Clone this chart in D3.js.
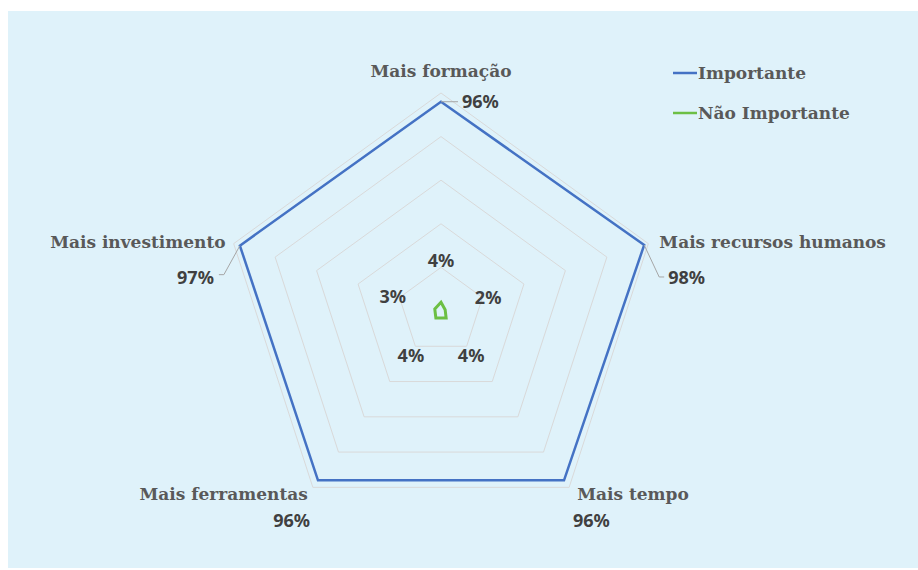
<!DOCTYPE html>
<html>
<head>
<meta charset="utf-8">
<script src="https://cdn.jsdelivr.net/npm/d3@7"></script>
<style>
  body { margin: 0; background: #fff; }
  .cat { font-family: "DejaVu Serif", serif; font-weight: bold; font-size: 17px; fill: #595959; }
  .val { font-family: "Noto Sans", sans-serif; font-weight: bold; font-size: 18px; fill: #404040; }
  .leg { font-family: "DejaVu Serif", serif; font-weight: bold; font-size: 17px; fill: #595959; }
</style>
</head>
<body>
<svg width="918" height="570"></svg>
<script>
// data
var categories = ['Mais formação', 'Mais recursos humanos', 'Mais tempo', 'Mais ferramentas', 'Mais investimento'];
var importante = [96, 98, 96, 96, 97];
var naoImportante = [4, 2, 4, 4, 3];
var gridLevels = [20, 40, 60, 80, 100];
var seriesNames = ['Importante', 'Não Importante'];
var seriesColors = ['#4472c4', '#6cbf44'];

// layout
var width = 918, height = 570;
var cx = 441, cy = 311;
var r = d3.scaleLinear().domain([0, 100]).range([0, 218]);

// label placement per axis: [dx, dy, anchor]
var catPos = [[0, -16, 'middle'], [11, 4, 'start'], [8, 13, 'start'], [-5, 13, 'end'], [-8, 4, 'end']];
var impPos = [[21, 6, 'start'], [24, 39, 'start'], [9, 47, 'start'], [-8, 47, 'end'], [-26, 38, 'end']];
var naoPos = [[0, -35, 'middle'], [43, -6, 'middle'], [25, 44, 'middle'], [-25, 44, 'middle'], [-42, -6, 'middle']];

var angle = function(i){ return i * 2 * Math.PI / categories.length; };
var pt = function(v, i){
	return [cx + r(v) * Math.sin(angle(i)), cy - r(v) * Math.cos(angle(i))];
};

var svg = d3.select('svg');

svg.append('rect')
	.attr('x', 8).attr('y', 11)
	.attr('width', width - 8).attr('height', height - 13)
	.attr('fill', '#dff2fa');

// grid
var line = d3.line().curve(d3.curveLinearClosed);
svg.selectAll('.grid').data(gridLevels).enter().append('path')
	.attr('class', 'grid')
	.attr('d', function(lv){ return line(categories.map(function(c, i){ return pt(lv, i); })); })
	.attr('fill', 'none')
	.attr('stroke', '#d9d9d9')
	.attr('stroke-width', 1);

// series
[importante, naoImportante].forEach(function(s, k){
	svg.append('path')
		.attr('d', line(s.map(function(v, i){ return pt(v, i); })))
		.attr('fill', 'none')
		.attr('stroke', seriesColors[k])
		.attr('stroke-width', k ? 3 : 2.5)
		.attr('stroke-linejoin', 'miter');
});

// leader lines for the outer value labels
var leaders = [[[0, 0], [17, 0]], [[0, 0], [15, 32], [20, 32]], null, null, [[0, 0], [-16, 29], [-21, 29]]];
leaders.forEach(function(l, i){
	if (!l) return;
	var p = pt(importante[i], i);
	svg.append('path')
		.attr('d', d3.line()(l.map(function(o){ return [p[0] + o[0], p[1] + o[1]]; })))
		.attr('fill', 'none')
		.attr('stroke', '#a6a6a6')
		.attr('stroke-width', 1);
});

// category labels
svg.selectAll('.cat').data(categories).enter().append('text')
	.attr('class', 'cat')
	.attr('x', function(d, i){ return pt(100, i)[0] + catPos[i][0]; })
	.attr('y', function(d, i){ return pt(100, i)[1] + catPos[i][1]; })
	.attr('text-anchor', function(d, i){ return catPos[i][2]; })
	.text(function(d){ return d; });

// value labels
svg.selectAll('.imp').data(importante).enter().append('text')
	.attr('class', 'val')
	.attr('x', function(d, i){ return pt(d, i)[0] + impPos[i][0]; })
	.attr('y', function(d, i){ return pt(d, i)[1] + impPos[i][1]; })
	.attr('text-anchor', function(d, i){ return impPos[i][2]; })
	.text(function(d){ return d + '%'; });

svg.selectAll('.nao').data(naoImportante).enter().append('text')
	.attr('class', 'val')
	.attr('x', function(d, i){ return pt(d, i)[0] + naoPos[i][0]; })
	.attr('y', function(d, i){ return pt(d, i)[1] + naoPos[i][1]; })
	.attr('text-anchor', function(d, i){ return naoPos[i][2]; })
	.text(function(d){ return d + '%'; });

// legend
var leg = svg.selectAll('.legItem').data(seriesNames).enter().append('g')
	.attr('transform', function(d, i){ return 'translate(673,' + (73 + i * 40) + ')'; });
leg.append('line')
	.attr('x1', 0).attr('x2', 24)
	.attr('stroke', function(d, i){ return seriesColors[i]; })
	.attr('stroke-width', 2.5);
leg.append('text')
	.attr('class', 'leg')
	.attr('x', 25).attr('y', 6)
	.text(function(d){ return d; });
</script>
</body>
</html>
